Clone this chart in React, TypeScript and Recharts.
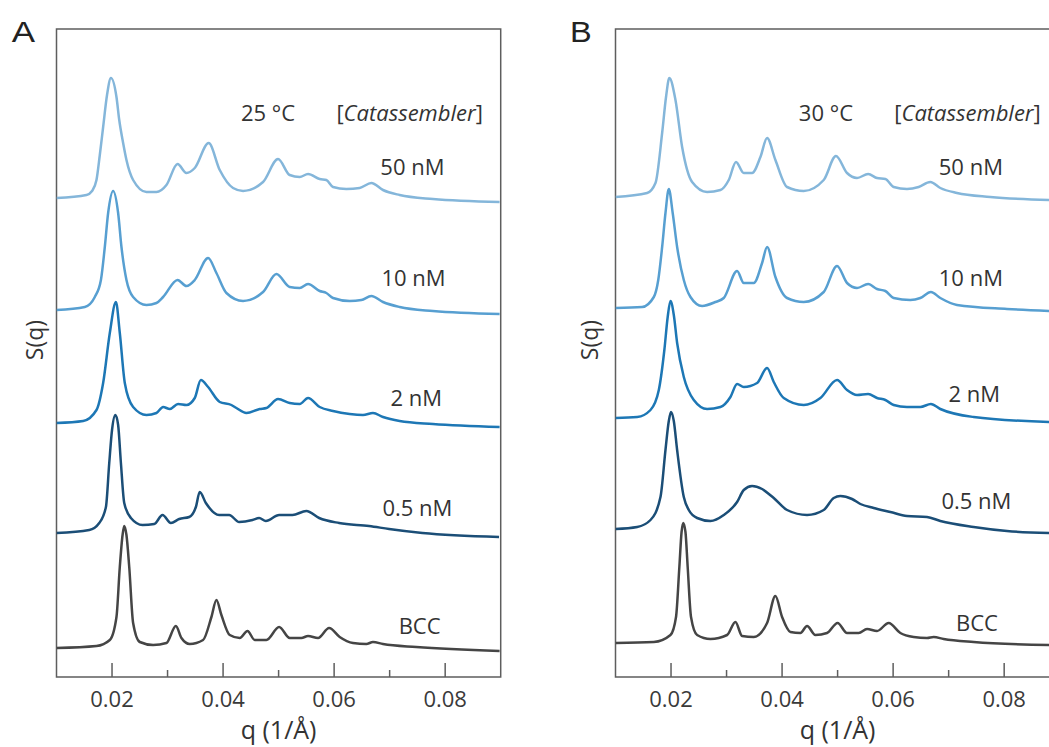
import React from 'react';
import { LineChart, Line, XAxis, YAxis, ReferenceArea, ReferenceDot } from 'recharts';

// ---------- Panel A (25 °C) ----------
const qA50 = [0.0100,0.0154,0.0164,0.0172,0.0178,0.0184,0.0191,0.0198,0.0208,0.0213,0.0220,0.0226,0.0238,0.0262,0.0280,0.0298,0.0318,0.0334,0.0349,0.0374,0.0394,0.0418,0.0436,0.0472,0.0499,0.0520,0.0538,0.0553,0.0574,0.0586,0.0598,0.0622,0.0646,0.0667,0.0688,0.0718,0.0778,0.0898];
const sA50 = [47.9,48.2,48.6,49.7,52.2,55.0,58.2,59.9,58.0,55.7,53.4,51.7,49.7,48.5,48.5,49.2,51.3,50.4,50.9,53.4,50.7,48.9,48.6,49.5,51.8,50.2,50.0,50.3,49.8,49.7,49.0,48.8,48.9,49.4,48.7,48.2,47.8,47.5];

const qA10 = [0.0100,0.0151,0.0169,0.0180,0.0187,0.0193,0.0202,0.0211,0.0217,0.0226,0.0238,0.0262,0.0280,0.0292,0.0318,0.0334,0.0349,0.0373,0.0388,0.0406,0.0436,0.0472,0.0496,0.0520,0.0538,0.0553,0.0574,0.0586,0.0598,0.0628,0.0649,0.0667,0.0688,0.0718,0.0778,0.0898];
const sA10 = [36.7,37.0,38.0,39.7,43.0,46.4,48.6,46.4,43.0,39.7,38.0,37.2,37.4,38.0,39.7,39.1,39.7,41.9,40.4,38.4,37.6,38.5,40.3,39.0,38.9,39.3,38.6,38.4,37.9,37.6,37.7,38.1,37.5,37.0,36.6,36.3];

const qA2 = [0.0100,0.0148,0.0172,0.0184,0.0196,0.0207,0.0214,0.0223,0.0238,0.0262,0.0280,0.0292,0.0304,0.0319,0.0334,0.0349,0.0360,0.0373,0.0394,0.0415,0.0424,0.0442,0.0466,0.0478,0.0499,0.0520,0.0538,0.0553,0.0574,0.0598,0.0628,0.0652,0.0670,0.0688,0.0718,0.0778,0.0898];
const sA2 = [25.4,25.6,26.7,29.4,34.4,37.5,34.4,29.4,27.0,26.2,26.4,27.0,26.8,27.3,27.2,27.9,29.7,29.0,27.5,27.2,26.9,26.4,26.8,26.9,27.8,27.4,27.3,27.9,27.0,26.6,26.3,26.2,26.4,26.0,25.6,25.3,25.0];

const qA05 = [0.0100,0.0159,0.0177,0.0189,0.0195,0.0200,0.0206,0.0211,0.0216,0.0222,0.0234,0.0255,0.0276,0.0291,0.0306,0.0321,0.0339,0.0351,0.0358,0.0369,0.0393,0.0411,0.0429,0.0453,0.0465,0.0477,0.0501,0.0525,0.0550,0.0573,0.0609,0.0663,0.0699,0.0759,0.0897];
const sA05 = [14.4,14.7,15.4,17.0,21.4,24.7,26.2,25.2,21.4,17.4,15.9,15.2,15.3,16.2,15.4,15.8,16.0,17.0,18.5,17.4,16.2,16.2,15.5,15.7,15.9,15.6,16.2,16.2,16.6,15.9,15.4,15.1,14.8,14.4,14.0];

const qABcc = [0.0100,0.0172,0.0196,0.0208,0.0214,0.0219,0.0222,0.0226,0.0231,0.0238,0.0250,0.0274,0.0298,0.0315,0.0325,0.0340,0.0364,0.0379,0.0388,0.0397,0.0412,0.0430,0.0444,0.0457,0.0478,0.0501,0.0520,0.0541,0.0553,0.0571,0.0591,0.0610,0.0634,0.0658,0.0670,0.0688,0.0748,0.0898];
const sABcc = [2.9,3.1,3.7,6.0,11.0,14.2,15.1,14.2,11.0,5.4,3.5,3.2,3.4,5.1,3.9,3.3,3.7,6.0,7.7,6.2,4.2,3.9,4.6,3.7,3.7,5.0,3.9,3.9,4.1,3.9,4.9,4.0,3.4,3.3,3.5,3.3,3.0,2.6];

// ---------- Panel B (30 °C) ----------
const qB50 = [0.0100,0.0157,0.0172,0.0184,0.0191,0.0197,0.0208,0.0220,0.0238,0.0265,0.0289,0.0304,0.0317,0.0331,0.0346,0.0361,0.0373,0.0388,0.0409,0.0439,0.0475,0.0497,0.0517,0.0535,0.0555,0.0571,0.0586,0.0601,0.0625,0.0646,0.0667,0.0685,0.0715,0.0775,0.0881];
const sB50 = [48.0,48.4,49.4,54.4,58.0,59.9,57.7,53.0,49.5,48.5,48.7,49.7,51.5,50.4,50.4,52.0,53.9,51.7,49.0,48.6,49.7,52.1,50.4,49.9,50.3,49.9,49.8,49.0,48.8,49.0,49.5,48.9,48.4,48.0,47.7];

const qB10 = [0.0100,0.0148,0.0169,0.0177,0.0184,0.0190,0.0196,0.0203,0.0211,0.0223,0.0235,0.0256,0.0280,0.0295,0.0319,0.0331,0.0349,0.0364,0.0373,0.0388,0.0409,0.0439,0.0475,0.0499,0.0517,0.0535,0.0555,0.0571,0.0586,0.0601,0.0631,0.0649,0.0668,0.0685,0.0715,0.0805,0.0881];
const sB10 = [36.9,37.0,38.0,39.7,43.0,46.4,48.8,46.4,43.0,39.7,38.0,37.1,37.5,37.9,40.6,39.4,39.4,41.4,43.0,40.0,37.9,37.5,38.5,41.1,39.4,38.9,39.3,38.8,38.6,37.9,37.7,37.9,38.5,37.9,37.2,36.8,36.6];

const qB2 = [0.0100,0.0139,0.0163,0.0178,0.0188,0.0194,0.0199,0.0205,0.0211,0.0223,0.0241,0.0265,0.0289,0.0307,0.0319,0.0331,0.0355,0.0373,0.0385,0.0403,0.0439,0.0469,0.0499,0.0517,0.0535,0.0555,0.0571,0.0586,0.0601,0.0625,0.0649,0.0668,0.0685,0.0745,0.0881];
const sB2 = [25.9,26.0,26.7,28.7,32.7,36.0,37.6,36.2,33.4,30.0,27.7,26.8,27.0,28.0,29.3,29.0,29.4,30.9,29.5,27.9,27.2,27.9,29.7,28.7,28.2,28.3,27.9,27.7,27.2,27.0,27.0,27.3,26.8,26.0,25.5];

const qB05 = [0.0100,0.0139,0.0163,0.0181,0.0190,0.0196,0.0200,0.0205,0.0211,0.0223,0.0232,0.0247,0.0271,0.0295,0.0319,0.0331,0.0346,0.0364,0.0385,0.0409,0.0445,0.0475,0.0493,0.0505,0.0526,0.0541,0.0565,0.0595,0.0625,0.0661,0.0685,0.0745,0.0805,0.0881];
const sB05 = [14.8,15.0,15.7,18.0,22.7,25.6,26.5,25.6,22.7,18.0,16.7,15.9,15.6,16.2,17.5,18.7,19.1,18.8,17.9,16.7,16.2,16.7,17.9,18.1,17.8,17.3,16.9,16.5,16.1,16.0,15.6,15.0,14.6,14.4];

const qBBcc = [0.0100,0.0169,0.0199,0.0209,0.0215,0.0219,0.0222,0.0226,0.0230,0.0236,0.0247,0.0271,0.0301,0.0316,0.0328,0.0349,0.0373,0.0388,0.0400,0.0415,0.0433,0.0445,0.0460,0.0481,0.0500,0.0517,0.0538,0.0553,0.0571,0.0592,0.0613,0.0637,0.0661,0.0673,0.0691,0.0745,0.0881];
const sBBcc = [3.4,3.5,4.2,6.0,11.0,14.5,15.4,14.5,11.0,6.0,4.2,3.8,4.2,5.5,4.1,4.0,5.4,8.1,6.0,4.5,4.4,5.1,4.2,4.4,5.4,4.4,4.4,4.8,4.6,5.4,4.4,4.0,3.9,4.0,3.8,3.5,3.2];

// ---------- Axis & labels ----------
const xTicks = [0.02, 0.03, 0.04, 0.05, 0.06, 0.07, 0.08];
const xTickLabels = ['0.02', '', '0.04', '', '0.06', '', '0.08'];
const seriesNames = ['50 nM', '10 nM', '2 nM', '0.5 nM', 'BCC'];
const seriesColors = ['#84b6da', '#579fd1', '#1d77b5', '#1b4e77', '#454545'];

// label anchor points (q, S) for each series name, per panel
const labelQA = [0.0741, 0.0743, 0.0748, 0.0750, 0.0754];
const labelSA = [51.1, 40.0, 28.0, 17.0, 5.2];
const labelQB = [0.0740, 0.0740, 0.0746, 0.0750, 0.0751];
const labelSB = [51.1, 40.0, 28.4, 17.7, 5.5];

const FONT = "'Open Sans', 'Noto Sans', sans-serif";
const TEXT = '#333333';
const FRAME = '#5e5e5e';
const Y_MAX = 64.8;

type Curve = { name: string; color: string; q: number[]; s: number[] };
type Note = { q: number; s: number; kind: 'plain' | 'cat'; text: string };

const makeRows = (q: number[], s: number[]) => q.map((v, i) => ({ q: v, s: s[i] }));

const curvesA: Curve[] = [
  { name: seriesNames[0], color: seriesColors[0], q: qA50, s: sA50 },
  { name: seriesNames[1], color: seriesColors[1], q: qA10, s: sA10 },
  { name: seriesNames[2], color: seriesColors[2], q: qA2, s: sA2 },
  { name: seriesNames[3], color: seriesColors[3], q: qA05, s: sA05 },
  { name: seriesNames[4], color: seriesColors[4], q: qABcc, s: sABcc },
];
const curvesB: Curve[] = [
  { name: seriesNames[0], color: seriesColors[0], q: qB50, s: sB50 },
  { name: seriesNames[1], color: seriesColors[1], q: qB10, s: sB10 },
  { name: seriesNames[2], color: seriesColors[2], q: qB2, s: sB2 },
  { name: seriesNames[3], color: seriesColors[3], q: qB05, s: sB05 },
  { name: seriesNames[4], color: seriesColors[4], q: qBBcc, s: sBBcc },
];

const notesA: Note[] = [
  { q: 0.0481, s: 56.5, kind: 'plain', text: '25 °C' },
  { q: 0.0736, s: 56.5, kind: 'cat', text: 'Catassembler' },
  ...seriesNames.map((n, i) => ({ q: labelQA[i], s: labelSA[i], kind: 'plain' as const, text: n })),
];
const notesB: Note[] = [
  { q: 0.0479, s: 56.5, kind: 'plain', text: '30 °C' },
  { q: 0.0734, s: 56.5, kind: 'cat', text: 'Catassembler' },
  ...seriesNames.map((n, i) => ({ q: labelQB[i], s: labelSB[i], kind: 'plain' as const, text: n })),
];

const renderTick = (props: any) => {
  const { x, y, index } = props;
  const label = xTickLabels[index] ?? '';
  const major = label !== '';
  return (
    <g>
      <line x1={x} x2={x} y1={y} y2={y - (major ? 14 : 7)} stroke={FRAME} strokeWidth={1.5} />
      {major && (
        <text x={x} y={y + 29.5} textAnchor="middle" fontFamily={FONT} fontSize={22} fill="#3a3a3a">
          {label}
        </text>
      )}
    </g>
  );
};

function Panel({ curves, notes, sqX }: { curves: Curve[]; notes: Note[]; sqX: number }) {
  return (
    <LineChart width={520} height={747} margin={{ top: 29, right: 19.3, bottom: 0, left: 0 }}>
      <XAxis
        type="number"
        dataKey="q"
        domain={[0.01, 0.09]}
        allowDataOverflow
        ticks={xTicks}
        interval={0}
        tick={renderTick}
        tickLine={false}
        axisLine={false}
        tickSize={0}
        tickMargin={0}
        height={70}
        label={{ value: 'q (1/Å)', position: 'insideBottom', offset: 8, fill: TEXT, fontSize: 25, fontFamily: FONT }}
      />
      <YAxis
        type="number"
        domain={[0, Y_MAX]}
        allowDataOverflow
        width={56.5}
        tick={false}
        tickLine={false}
        axisLine={false}
        label={{
          content: () => (
            <text
              transform={`translate(${sqX}, 340) rotate(-90)`}
              textAnchor="middle"
              fontFamily={FONT}
              fontSize={23}
              fill={TEXT}
            >
              S(q)
            </text>
          ),
        }}
      />
      <ReferenceArea x1={0.01} x2={0.09} y1={0} y2={Y_MAX} fill="none" fillOpacity={0} stroke={FRAME} strokeWidth={1.5} />
      {curves.map((c) => (
        <Line
          key={c.name}
          name={c.name}
          data={makeRows(c.q, c.s)}
          dataKey="s"
          type="monotone"
          stroke={c.color}
          strokeWidth={2.5}
          dot={false}
          activeDot={false}
          isAnimationActive={false}
        />
      ))}
      {notes.map((n, i) => (
        <ReferenceDot
          key={i}
          x={n.q}
          y={n.s}
          r={0}
          ifOverflow="visible"
          shape={(p: any) => (
            <text
              x={p.cx}
              y={p.cy}
              textAnchor="middle"
              dominantBaseline="central"
              fontFamily={FONT}
              fontSize={22}
              fill={TEXT}
            >
              {n.kind === 'cat' ? (
                <>
                  <tspan>[</tspan>
                  <tspan fontStyle="italic">{n.text}</tspan>
                  <tspan>]</tspan>
                </>
              ) : (
                n.text
              )}
            </text>
          )}
        />
      ))}
    </LineChart>
  );
}

export default function App() {
  return (
    <div
      style={{
        position: 'fixed',
        left: 0,
        top: 0,
        width: 1049,
        height: 747,
        overflow: 'hidden',
        background: '#ffffff',
      }}
    >
      <div style={{ position: 'absolute', left: 0, top: 0 }}>
        <Panel curves={curvesA} notes={notesA} sqX={43} />
      </div>
      <div style={{ position: 'absolute', left: 558.7, top: 0 }}>
        <Panel curves={curvesB} notes={notesB} sqX={39.3} />
      </div>
      <svg
        width={1049}
        height={747}
        style={{ position: 'absolute', left: 0, top: 0, pointerEvents: 'none' }}
      >
        <text x={11.7} y={42.3} fontFamily="'Liberation Sans', Arial, sans-serif" fontSize={29} fill="#222" textLength={23.3} lengthAdjust="spacingAndGlyphs">
          A
        </text>
        <text x={570} y={42.3} fontFamily="'Liberation Sans', Arial, sans-serif" fontSize={29} fill="#222" textLength={21.7} lengthAdjust="spacingAndGlyphs">
          B
        </text>
      </svg>
    </div>
  );
}
